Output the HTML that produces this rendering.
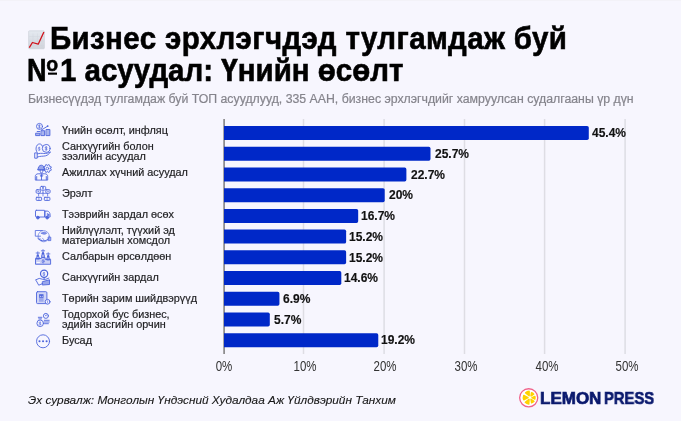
<!DOCTYPE html>
<html><head><meta charset="utf-8"><style>
*{margin:0;padding:0;box-sizing:border-box}
html,body{width:681px;height:421px;overflow:hidden;background:#f7f6fe}
body{position:relative;font-family:"Liberation Sans",sans-serif}
.t{position:absolute;white-space:nowrap;line-height:1;will-change:transform;transform-origin:0 84.65%}
.title{font-weight:bold;font-size:29.5px;color:#000;-webkit-text-stroke:0.55px #000;transform:scaleY(1.05)}
.sub{font-size:12.31px;color:#85848c;-webkit-text-stroke:0.2px #85848c}
.lab{font-size:10.85px;color:#1f1f22;-webkit-text-stroke:0.2px #1f1f22}
.val{font-weight:bold;font-size:12.0px;color:#111;-webkit-text-stroke:0.15px #111}
.tick{font-size:11.5px;color:#333;text-align:center;width:40px;transform-origin:50% 84.65%;transform:scaleY(1.22)}
.src{font-style:italic;font-size:11.84px;color:#161616;-webkit-text-stroke:0.1px #161616}
</style></head>
<body>
<div style="position:absolute;left:0;top:0;width:681px;height:1px;background:#f3f2f8"></div>
<svg style="position:absolute;left:0;top:0" width="681" height="421" viewBox="0 0 681 421">
<defs><linearGradient id="eg" x1="0" y1="0" x2="0" y2="1"><stop offset="0" stop-color="#e4e9f0"/><stop offset="1" stop-color="#d2d5dc"/></linearGradient></defs>
<rect x="28.6" y="30.8" width="15.8" height="18" rx="0.8" fill="url(#eg)" stroke="#c5c9d1" stroke-width="0.5"/>
<path d="M33 33.5v14M37.5 33.5v14M42 33.5v14M29 36.5h15M29 41h15M29 45.5h15" stroke="#cfd4dc" stroke-width="0.35" fill="none"/>
<path d="M29.3 47.6L32.4 42.5L38.2 44.2L43.9 32" stroke="#d0121c" stroke-width="1.3" fill="none" stroke-linejoin="round"/>
</svg>

<div class="t title" style="left:49.9px;top:24.33px;letter-spacing:0.37px">Бизнес эрхлэгчдэд тулгамдаж буй</div>
<div class="t title" style="left:27.3px;top:55.53px"><span style="display:inline-block;transform:scaleX(0.92);transform-origin:0 0">N</span><span style="display:inline-block;position:relative;width:11.58px;height:1em;vertical-align:top"><span style="position:absolute;left:-2.0px;top:-0.92px;font-size:19.5px;line-height:1;-webkit-text-stroke:0.45px #000">o</span><span style="position:absolute;left:-0.3px;top:16.9px;width:9.2px;height:2px;background:#000"></span></span>1 асуудал: Үнийн өсөлт</div>
<div class="t sub" style="left:27.9px;top:92.88px">Бизнесүүдэд тулгамдаж буй ТОП асуудлууд, 335 ААН, бизнес эрхлэгчдийг хамруулсан судалгааны үр дүн</div>
<svg style="position:absolute;left:0;top:0" width="681" height="421" viewBox="0 0 681 421"><rect x="302.75" y="119" width="1.5" height="235" fill="#dedde4"/><rect x="383.35" y="119" width="1.5" height="235" fill="#dedde4"/><rect x="463.75" y="119" width="1.5" height="235" fill="#dedde4"/><rect x="543.85" y="119" width="1.5" height="235" fill="#dedde4"/><rect x="624.35" y="119" width="1.5" height="235" fill="#dedde4"/><rect x="223.3" y="119" width="1.6" height="235" fill="#838383"/><path d="M224.0 126.00h363.09a1.7 1.7 0 0 1 1.7 1.7v10.60a1.7 1.7 0 0 1 -1.7 1.7h-363.09z" fill="#0028c8"/><path d="M224.0 146.72h204.80a1.7 1.7 0 0 1 1.7 1.7v10.60a1.7 1.7 0 0 1 -1.7 1.7h-204.80z" fill="#0028c8"/><path d="M224.0 167.44h180.69a1.7 1.7 0 0 1 1.7 1.7v10.60a1.7 1.7 0 0 1 -1.7 1.7h-180.69z" fill="#0028c8"/><path d="M224.0 188.16h159.00a1.7 1.7 0 0 1 1.7 1.7v10.60a1.7 1.7 0 0 1 -1.7 1.7h-159.00z" fill="#0028c8"/><path d="M224.0 208.88h132.48a1.7 1.7 0 0 1 1.7 1.7v10.60a1.7 1.7 0 0 1 -1.7 1.7h-132.48z" fill="#0028c8"/><path d="M224.0 229.60h120.43a1.7 1.7 0 0 1 1.7 1.7v10.60a1.7 1.7 0 0 1 -1.7 1.7h-120.43z" fill="#0028c8"/><path d="M224.0 250.32h120.43a1.7 1.7 0 0 1 1.7 1.7v10.60a1.7 1.7 0 0 1 -1.7 1.7h-120.43z" fill="#0028c8"/><path d="M224.0 271.04h115.61a1.7 1.7 0 0 1 1.7 1.7v10.60a1.7 1.7 0 0 1 -1.7 1.7h-115.61z" fill="#0028c8"/><path d="M224.0 291.76h53.74a1.7 1.7 0 0 1 1.7 1.7v10.60a1.7 1.7 0 0 1 -1.7 1.7h-53.74z" fill="#0028c8"/><path d="M224.0 312.48h44.10a1.7 1.7 0 0 1 1.7 1.7v10.60a1.7 1.7 0 0 1 -1.7 1.7h-44.10z" fill="#0028c8"/><path d="M224.0 333.20h152.57a1.7 1.7 0 0 1 1.7 1.7v10.60a1.7 1.7 0 0 1 -1.7 1.7h-152.57z" fill="#0028c8"/></svg>
<div class="t tick" style="left:203.90px;top:362.27px">0%</div>
<div class="t tick" style="left:284.55px;top:362.27px">10%</div>
<div class="t tick" style="left:365.20px;top:362.27px">20%</div>
<div class="t tick" style="left:445.85px;top:362.27px">30%</div>
<div class="t tick" style="left:526.50px;top:362.27px">40%</div>
<div class="t tick" style="left:607.15px;top:362.27px">50%</div>
<div class="t val" style="left:592.39px;top:127.24px">45.4%</div>
<div class="t lab" style="left:61.6px;top:124.82px">Үнийн өсөлт, инфляц</div>
<div class="t val" style="left:434.90px;top:147.96px">25.7%</div>
<div class="t lab" style="left:61.6px;top:140.92px">Санхүүгийн болон</div>
<div class="t lab" style="left:61.6px;top:151.12px">зээлийн асуудал</div>
<div class="t val" style="left:410.79px;top:168.68px">22.7%</div>
<div class="t lab" style="left:61.6px;top:166.82px">Ажиллах хүчний асуудал</div>
<div class="t val" style="left:389.10px;top:189.40px">20%</div>
<div class="t lab" style="left:61.6px;top:187.82px">Эрэлт</div>
<div class="t val" style="left:360.78px;top:210.12px">16.7%</div>
<div class="t lab" style="left:61.6px;top:208.82px">Тээврийн зардал өсөх</div>
<div class="t val" style="left:348.73px;top:230.84px">15.2%</div>
<div class="t lab" style="left:61.6px;top:224.92px">Нийлүүлэлт, түүхий эд</div>
<div class="t lab" style="left:61.6px;top:235.12px">материалын хомсдол</div>
<div class="t val" style="left:348.73px;top:251.56px">15.2%</div>
<div class="t lab" style="left:61.6px;top:250.82px">Салбарын өрсөлдөөн</div>
<div class="t val" style="left:343.91px;top:272.28px">14.6%</div>
<div class="t lab" style="left:61.6px;top:271.82px">Санхүүгийн зардал</div>
<div class="t val" style="left:282.54px;top:293.00px">6.9%</div>
<div class="t lab" style="left:61.6px;top:292.82px">Төрийн зарим шийдвэрүүд</div>
<div class="t val" style="left:274.30px;top:313.72px">5.7%</div>
<div class="t lab" style="left:61.6px;top:308.92px">Тодорхой бус бизнес,</div>
<div class="t lab" style="left:61.6px;top:319.12px">эдийн засгийн орчин</div>
<div class="t val" style="left:380.87px;top:334.44px">19.2%</div>
<div class="t lab" style="left:61.6px;top:334.82px">Бусад</div>
<div class="t src" style="left:28.0px;top:394.78px">Эх сурвалж: Монголын Үндэсний Худалдаа Аж Үйлдвэрийн Танхим</div>
<svg style="position:absolute;left:0;top:0;opacity:0.9" width="681" height="421" viewBox="0 0 681 421" fill="none" stroke="#3a55d8" stroke-width="0.9" stroke-linecap="round" stroke-linejoin="round">
<circle cx="39.5" cy="126.4" r="3.0"/>
<path d="M40.27 125.47c-0.5-0.5-1.9-0.5-1.9 0.4c0 0.9 1.9 0.6 1.9 1.5c0 0.9-1.4 0.9-2 0.4M39.50 124.79v3.23" stroke-width="0.6"/>
<rect x="36.0" y="133.2" width="3.9" height="2.4" fill="#3a55d8" fill-opacity="0.45"/>
<rect x="41.4" y="130.7" width="3.2" height="4.9" fill="#3a55d8" fill-opacity="0.45"/>
<rect x="46.4" y="129.5" width="3.5" height="6.1" fill="#3a55d8" fill-opacity="0.45"/>
<path d="M41.2 130.1L47.4 126.3M37.2 131.5h2.6"/>
<circle cx="47.7" cy="126.1" r="0.9" fill="#3a55d8" stroke="none"/>
<circle cx="46.2" cy="148.4" r="3.9"/>
<path d="M42.4 146.2c-0.6-2.2-2.4-2.6-4-2c-1.9 0.8-2.6 3.3-2.3 5.6c0.2 1.1 0.6 2 1.1 2.6"/>
<path d="M47.10 147.30c-0.5-0.5-1.9-0.5-1.9 0.4c0 0.9 1.9 0.6 1.9 1.5c0 0.9-1.4 0.9-2 0.4M46.20 146.50v3.80" stroke-width="0.7"/>
<path d="M40.02 147.72c-0.5-0.5-1.9-0.5-1.9 0.4c0 0.9 1.9 0.6 1.9 1.5c0 0.9-1.4 0.9-2 0.4M39.30 147.08v3.04" stroke-width="0.55"/>
<path d="M37.3 153.9c2.4-0.8 4.4-0.6 6.4-0.4c2.4 0.2 4.9-0.5 6.6-1.5M37.3 157c3-1 6-0.6 8.4-1.2c2-0.6 3.4-1.8 4.5-3.3"/>
<rect x="35.1" y="152.9" width="2.1" height="5.3"/>
<path d="M50.40 168.50L50.36 168.97L51.41 169.33L50.83 170.75L49.83 170.26L49.52 170.62L49.16 170.93L49.65 171.93L48.23 172.51L47.87 171.46L47.40 171.50L46.93 171.46L46.57 172.51L45.15 171.93L45.64 170.93L45.28 170.62L44.97 170.26L43.97 170.75L43.39 169.33L44.44 168.97L44.40 168.50L44.44 168.03L43.39 167.67L43.97 166.25L44.97 166.74L45.28 166.38L45.64 166.07L45.15 165.07L46.57 164.49L46.93 165.54L47.40 165.50L47.87 165.54L48.23 164.49L49.65 165.07L49.16 166.07L49.52 166.38L49.83 166.74L50.83 166.25L51.41 167.67L50.36 168.03Z" stroke-width="0.8"/>
<circle cx="47.4" cy="168.5" r="1.3" stroke-width="0.8"/>
<path d="M38.0 169.6c0-2.7 1.5-4.4 3.3-4.4c1.8 0 3.4 1.7 3.4 4.4z" fill="#3a55d8" fill-opacity="0.55"/>
<path d="M37.6 169.7h7.6"/>
<path d="M40.2 170v1.4c0 0.9 0.5 1.5 1.3 1.5s1.3-0.6 1.3-1.5V170"/>
<path d="M35.3 179.7v-3.3c0-1.6 1.3-2.6 2.9-2.6h6.6c1.6 0 2.9 1 2.9 2.6v3.3z"/>
<path d="M36.7 176.5v3.2M46.3 176.5v3.2M41.5 177.6v2.1"/>
<path d="M41.5 174l-1.1 1.8l1.1 1.6l1.1-1.6z" fill="#3a55d8" stroke-width="0.6"/>
<rect x="40.3" y="186.4" width="5.4" height="3.7" rx="1.2"/>
<circle cx="43" cy="187.9" r="0.9" fill="#3a55d8" stroke="none"/>
<rect x="36.1" y="189.7" width="4.2" height="3.5" rx="1"/>
<rect x="45.8" y="189.7" width="4.3" height="3.5" rx="1"/>
<circle cx="38.2" cy="191.2" r="0.7" fill="#3a55d8" stroke="none"/><circle cx="48" cy="191.2" r="0.7" fill="#3a55d8" stroke="none"/>
<path d="M43 190.1v2.4M39.6 193.4h6.8M38.6 193.4v2.6M47.6 193.4v2.6M43 192.5v3.5" stroke-width="0.7"/>
<rect x="36.2" y="197.3" width="5.4" height="3.1" rx="0.6"/>
<rect x="44.3" y="197.3" width="5.6" height="3.1" rx="0.6"/>
<path d="M38.9 197.3v3.1M47.1 197.3v3.1" stroke-width="0.6"/>
<rect x="35.5" y="210.3" width="9.5" height="6.7" rx="0.8"/>
<path d="M45 211.1h2.4c1.5 0 2.7 2 2.7 3.5V217H45z"/>
<path d="M47.6 213.6l2 1.4l-2 1z" fill="#3a55d8" stroke-width="0.6"/>
<circle cx="37.9" cy="217.6" r="1.4" fill="#3a55d8"/>
<circle cx="47.2" cy="217.6" r="1.4" fill="#3a55d8"/>
<circle cx="43.7" cy="236.2" r="5.6" stroke-width="0.7" stroke-opacity="0.8"/>
<path d="M42.4 230.5H35.3v5.7h5.2" stroke-width="0.8"/>
<path d="M41.5 233.2c1.5-1.3 3.9-1.5 5.2 0c-1.3 1.3-3.7 1.3-5.2 0z" fill="#3a55d8" fill-opacity="0.6" stroke-width="0.7"/>
<path d="M37.8 238.4c1.6 1.6 3.8 2.6 6.2 2.4c1.6-0.1 3-0.8 4.4-1.8" stroke-width="1.0"/>
<path d="M39.6 238.4l1.5 1M42.5 238.2l1.2 1.4" stroke-width="0.6"/>
<rect x="48.4" y="237.1" width="2.4" height="3.5" fill="#3a55d8" fill-opacity="0.5" stroke-width="0.7"/>
<circle cx="37.8" cy="255.4" r="1.2" fill="#3a55d8" stroke="none"/>
<path d="M36.10 253.00h3.4M37.80 251.80v2.2" stroke-width="0.8"/>
<path d="M36.30 258.80v-1.2c0-0.9 0.6-1.5 1.5-1.5s1.5 0.6 1.5 1.5v1.2z" fill="#3a55d8" fill-opacity="0.5" stroke-width="0.7"/>
<circle cx="43.0" cy="253.2" r="1.2" fill="#3a55d8" stroke="none"/>
<path d="M41.30 250.80h3.4M43.00 249.60v2.2" stroke-width="0.8"/>
<path d="M41.50 256.60v-1.2c0-0.9 0.6-1.5 1.5-1.5s1.5 0.6 1.5 1.5v1.2z" fill="#3a55d8" fill-opacity="0.5" stroke-width="0.7"/>
<circle cx="48.2" cy="256.3" r="1.2" fill="#3a55d8" stroke="none"/>
<path d="M46.50 253.90h3.4M48.20 252.70v2.2" stroke-width="0.8"/>
<path d="M46.70 259.70v-1.2c0-0.9 0.6-1.5 1.5-1.5s1.5 0.6 1.5 1.5v1.2z" fill="#3a55d8" fill-opacity="0.5" stroke-width="0.7"/>
<path d="M35.5 263.9v-5.4h5.8v-1h3.8v1.8h5.5v4.6z" fill="#3a55d8" fill-opacity="0.25" stroke-width="0.9"/>
<ellipse cx="43.1" cy="261.3" rx="0.9" ry="1.9" stroke-width="0.7"/>
<rect x="36.5" y="262" width="3.4" height="0.9" fill="#ffffff" stroke="none"/>
<circle cx="44.1" cy="273.8" r="3.6" stroke-width="1.2"/>
<path d="M44.82 272.92c-0.5-0.5-1.9-0.5-1.9 0.4c0 0.9 1.9 0.6 1.9 1.5c0 0.9-1.4 0.9-2 0.4M44.10 272.28v3.04" stroke-width="0.6"/>
<path d="M44.1 277.4v2"/>
<path d="M35.6 279.9l3.6-1.5l3.6 0.9h3l3-1.2M36.2 280.6l2.5 4.6l3.8-1.6"/>
<path d="M42.7 281.6l6.8-1.8v4.7l-6.8 0.5z" fill="#3a55d8" fill-opacity="0.55"/>
<rect x="36.5" y="291.7" width="10.4" height="11.9" rx="1.1" fill="#3a55d8" fill-opacity="0.22"/>
<rect x="39.0" y="294.3" width="4.6" height="7.4" fill="#3a55d8" fill-opacity="0.4" stroke="none"/>
<rect x="39.2" y="294.3" width="4.2" height="3.4" fill="#3a55d8" stroke="none"/>
<circle cx="40.4" cy="296.2" r="0.5" fill="#fff" stroke="none"/><circle cx="42.2" cy="296.2" r="0.5" fill="#fff" stroke="none"/>
<circle cx="47.6" cy="301.8" r="2.4" fill="#f7f6fe" stroke-width="0.9"/>
<path d="M47.6 300.8v2" stroke-width="0.6"/>
<circle cx="40.2" cy="323.3" r="3.3"/>
<path d="M38.3 317.3h3.6M38.7 318.9h2.8"/>
<path d="M40.88 322.48c-0.5-0.5-1.9-0.5-1.9 0.4c0 0.9 1.9 0.6 1.9 1.5c0 0.9-1.4 0.9-2 0.4M40.20 321.88v2.85" stroke-width="0.55"/>
<circle cx="45.9" cy="315.9" r="2.5"/>
<path d="M45.2 315l0.7 1.1l0.9-1.4" stroke-width="0.6"/>
<path d="M44.3 320.3h4.9M44.1 322h5.1M44.5 323.7h3.9" stroke-width="0.9"/>
<circle cx="43.05" cy="341.3" r="6.5"/>
<circle cx="39.5" cy="341.3" r="1.05" fill="#3a55d8" stroke="none"/>
<circle cx="43.05" cy="341.3" r="1.05" fill="#3a55d8" stroke="none"/>
<circle cx="46.6" cy="341.3" r="1.05" fill="#3a55d8" stroke="none"/>
</svg>
<svg style="position:absolute;left:0;top:0" width="681" height="421" viewBox="0 0 681 421">
<circle cx="528.7" cy="397.8" r="9.05" fill="#ffffff" stroke="#f0628a" stroke-width="1.3"/>
<g fill="#ffd200" stroke="#ffd200" stroke-width="1.5" stroke-linejoin="round"><path d="M529.15 395.79L525.72 392.84A6.4 6.4 0 0 1 529.11 391.26Z"/><path d="M531.06 395.90L531.46 392.82A5.0 5.0 0 0 1 533.66 394.19Z"/><path d="M532.00 397.67L534.87 396.48A5.0 5.0 0 0 1 534.78 399.06Z"/><path d="M531.06 399.30L533.95 401.28A5.4 5.4 0 0 1 531.58 402.76Z"/><path d="M529.06 399.37L528.74 404.08A6.6 6.6 0 0 1 525.33 402.27Z"/><path d="M528.00 397.60L523.76 399.75A6.6 6.6 0 0 1 523.76 395.45Z"/></g>
</svg>
<div class="t" style="left:540.2px;top:390.2px;font-weight:bold;font-size:17px;color:#0b1a6e;-webkit-text-stroke:0.7px #0b1a6e;transform-origin:0 0;transform:scaleX(0.995)">LEMON</div>
<div class="t" style="left:604.4px;top:390.2px;font-weight:bold;font-size:17px;color:#0b1a6e;-webkit-text-stroke:0.7px #0b1a6e;transform-origin:0 0;transform:scaleX(0.87)">PRESS</div>

</body></html>
